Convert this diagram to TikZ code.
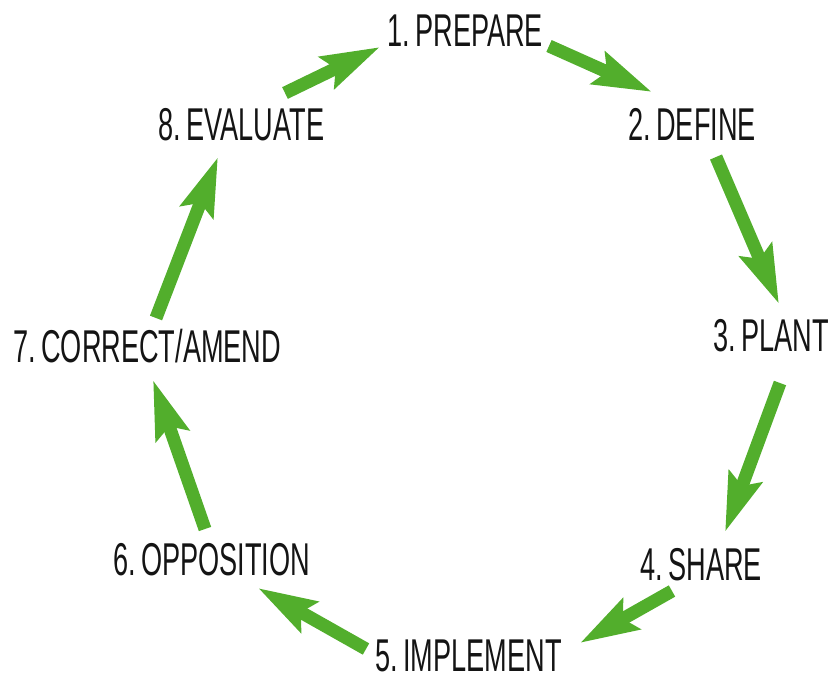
\documentclass[tikz,border=0pt]{standalone}
\usepackage{fontspec}
\setmainfont{Liberation Sans}[FakeStretch=0.59]
\usetikzlibrary{arrows.meta}
\definecolor{leaf}{RGB}{82,174,44}
\definecolor{ink}{RGB}{20,20,20}
% numbered label with a narrow gap after the period
\newcommand{\stagetext}[2]{#1.\hspace{5.5pt}#2}
\begin{document}
\begin{tikzpicture}[x=1pt,y=-1pt,
  stage/.style={anchor=base west,inner sep=0pt,text=ink,font=\fontsize{46}{46}\selectfont},
  flow/.style={draw=leaf,line width=13pt,
    -{Stealth[length=58pt,width=34pt,inset=9pt,fill=leaf,color=leaf]}}]
\useasboundingbox (0,0) rectangle (832,674);

% cycle stages
\node[stage] (p1) at (387,47)  {\stagetext{1}{PREPARE}};
\node[stage] (p2) at (628,140) {\stagetext{2}{DEFINE}};
\node[stage] (p3) at (713,351) {\stagetext{3}{PLANT}};
\node[stage] (p4) at (640,580) {\stagetext{4}{SHARE}};
\node[stage] (p5) at (375,671) {\stagetext{5}{IMPLEMENT}};
\node[stage] (p6) at (113,575) {\stagetext{6}{OPPOSITION}};
\node[stage] (p7) at (13,362)  {\stagetext{7}{CORRECT/AMEND}};
\node[stage] (p8) at (158,140) {\stagetext{8}{EVALUATE}};

% arrow ends between consecutive stages
\coordinate (a12) at (549,46);  \coordinate (b12) at (652,92);
\coordinate (a23) at (716,157); \coordinate (b23) at (779,304);
\coordinate (a34) at (780,383); \coordinate (b34) at (725,532);
\coordinate (a45) at (672,591); \coordinate (b45) at (580,643);
\coordinate (a56) at (366,649); \coordinate (b56) at (258,588);
\coordinate (a67) at (205,529); \coordinate (b67) at (153,380);
\coordinate (a78) at (156,318); \coordinate (b78) at (218,157);
\coordinate (a81) at (285,93);  \coordinate (b81) at (380,47);

\draw[flow] (a12) -- (b12);
\draw[flow] (a23) -- (b23);
\draw[flow] (a34) -- (b34);
\draw[flow] (a45) -- (b45);
\draw[flow] (a56) -- (b56);
\draw[flow] (a67) -- (b67);
\draw[flow] (a78) -- (b78);
\draw[flow] (a81) -- (b81);
\end{tikzpicture}
\end{document}
